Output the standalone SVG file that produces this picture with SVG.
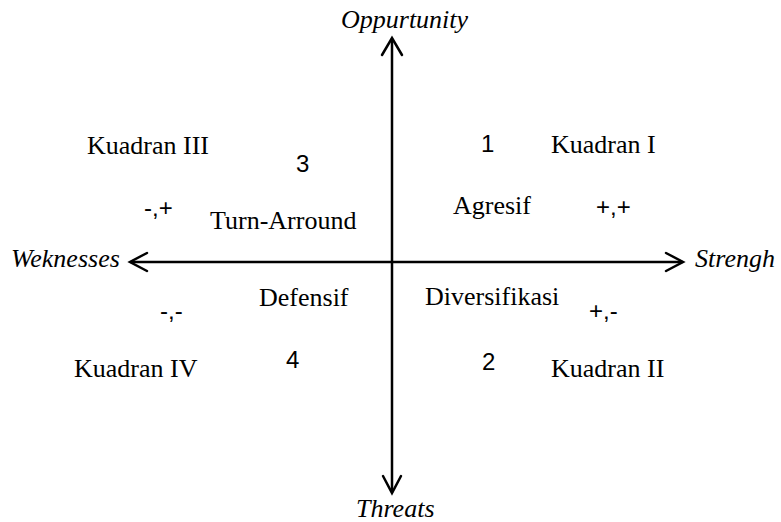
<svg xmlns="http://www.w3.org/2000/svg" width="781" height="522" viewBox="0 0 781 522">
<style>
.ax{stroke:#000;stroke-width:2.5;fill:none;stroke-linecap:round;stroke-linejoin:miter}
.lbl{font-family:"Liberation Serif","Times New Roman",serif;font-size:26px;fill:#000}
.ttl{font-family:"Liberation Serif","Times New Roman",serif;font-size:26px;font-style:italic;fill:#000}
.num{font-family:"Liberation Sans",Arial,sans-serif;font-size:24px;fill:#000}
</style>
<rect width="781" height="522" fill="#fff"/>
<g id="connectors">
<line class="ax" x1="392" y1="39" x2="392" y2="492"/>
<polyline class="ax" points="382,55 392,38 402,55"/>
<polyline class="ax" points="383,476 392,493 401,476"/>
<line class="ax" x1="131" y1="262" x2="682" y2="262"/>
<polyline class="ax" points="147,253 130,262 147,271"/>
<polyline class="ax" points="666,253 683,262 666,271"/>
</g>
<g id="opportunity"><text class="ttl" x="341" y="28">Oppurtunity</text></g>
<g id="weaknesses"><text class="ttl" x="11" y="267">Weknesses</text></g>
<g id="strength"><text class="ttl" x="695" y="267">Strengh</text></g>
<g id="threats"><text class="ttl" x="356" y="517">Threats</text></g>
<g id="q3">
<text class="lbl" x="87" y="154">Kuadran III</text>
<text class="num" x="296" y="172">3</text>
<text class="num" x="144" y="216">-,+</text>
<text class="lbl" x="210" y="229">Turn-Arround</text>
</g>
<g id="q1">
<text class="num" x="481" y="152">1</text>
<text class="lbl" x="551" y="153">Kuadran I</text>
<text class="lbl" x="453" y="214">Agresif</text>
<text class="num" x="596" y="215">+,+</text>
</g>
<g id="q4">
<text class="lbl" x="259" y="306">Defensif</text>
<text class="num" x="160" y="319">-,-</text>
<text class="lbl" x="74" y="377">Kuadran IV</text>
<text class="num" x="286" y="368">4</text>
</g>
<g id="q2">
<text class="lbl" x="425" y="305">Diversifikasi</text>
<text class="num" x="589" y="319">+,-</text>
<text class="num" x="482" y="370">2</text>
<text class="lbl" x="551" y="377">Kuadran II</text>
</g>
</svg>
